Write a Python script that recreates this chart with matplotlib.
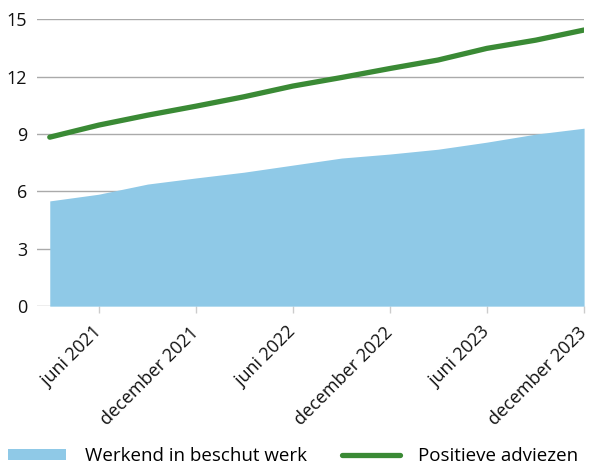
import numpy as np
import matplotlib
matplotlib.use('Agg')
import matplotlib.pyplot as plt
from matplotlib.patches import Patch
from matplotlib.lines import Line2D
import datetime as dt

plt.rcParams['font.family'] = ['Open Sans', 'DejaVu Sans']

# quarterly values, March 2021 .. December 2023
months = ['2021-03', '2021-06', '2021-09', '2021-12',
          '2022-03', '2022-06', '2022-09', '2022-12',
          '2023-03', '2023-06', '2023-09', '2023-12']
werkend = [5.5, 5.85, 6.38, 6.7, 7.0, 7.37, 7.74, 7.95, 8.2, 8.57, 8.99, 9.3]
adviezen = [8.83, 9.46, 9.98, 10.45, 10.94, 11.5, 11.95, 12.42, 12.86, 13.47, 13.9, 14.43]

tick_months = ['2021-06', '2021-12', '2022-06', '2022-12', '2023-06', '2023-12']
tick_labels = ['juni 2021', 'december 2021', 'juni 2022',
               'december 2022', 'juni 2023', 'december 2023']
yticks = [0, 3, 6, 9, 12, 15]

blue = '#8fc9e7'
green = '#3a8a35'
fs = 13

def to_date(s):
    y, m = s.split('-')
    return dt.date(int(y), int(m), 1)

x = [to_date(m) for m in months]
xt = [to_date(m) for m in tick_months]

fig = plt.figure(figsize=(5.93, 4.66), dpi=100)
ax = fig.add_axes([0.0624, 0.343, 0.9226, 0.616])

ax.fill_between(x, 0, werkend, color=blue, lw=0, zorder=2)
ax.plot(x, adviezen, color=green, lw=3.8, solid_capstyle='round', zorder=3)

ax.set_ylim(0, 15)
ax.set_yticks(yticks)
ax.set_xlim(x[0] - dt.timedelta(days=24), x[-1])
ax.set_xticks(xt)
ax.set_xticklabels(tick_labels, rotation=45, ha='right', va='center',
                   rotation_mode='anchor')

ax.grid(axis='y', color='#aaaaaa', lw=1, zorder=1)
for s in ax.spines.values():
    s.set_visible(False)
ax.tick_params(axis='y', length=0, pad=7, labelsize=fs, colors='#111111')
ax.tick_params(axis='x', length=5, width=1, color='#cccccc', pad=12,
               labelsize=fs, colors='#111111')

handles = [Patch(facecolor=blue, edgecolor='none'),
           Line2D([0], [0], color=green, lw=3.8, solid_capstyle='round')]
fig.legend(handles, ['Werkend in beschut werk', 'Positieve adviezen'],
           loc='lower left', bbox_to_anchor=(0.0135, 0.002), ncol=2, frameon=False,
           fontsize=13.5, handlelength=3.1, handleheight=0.5, handletextpad=1.0,
           columnspacing=1.85, borderaxespad=0.0, borderpad=0.0)

fig.savefig('out.png', dpi=100)
